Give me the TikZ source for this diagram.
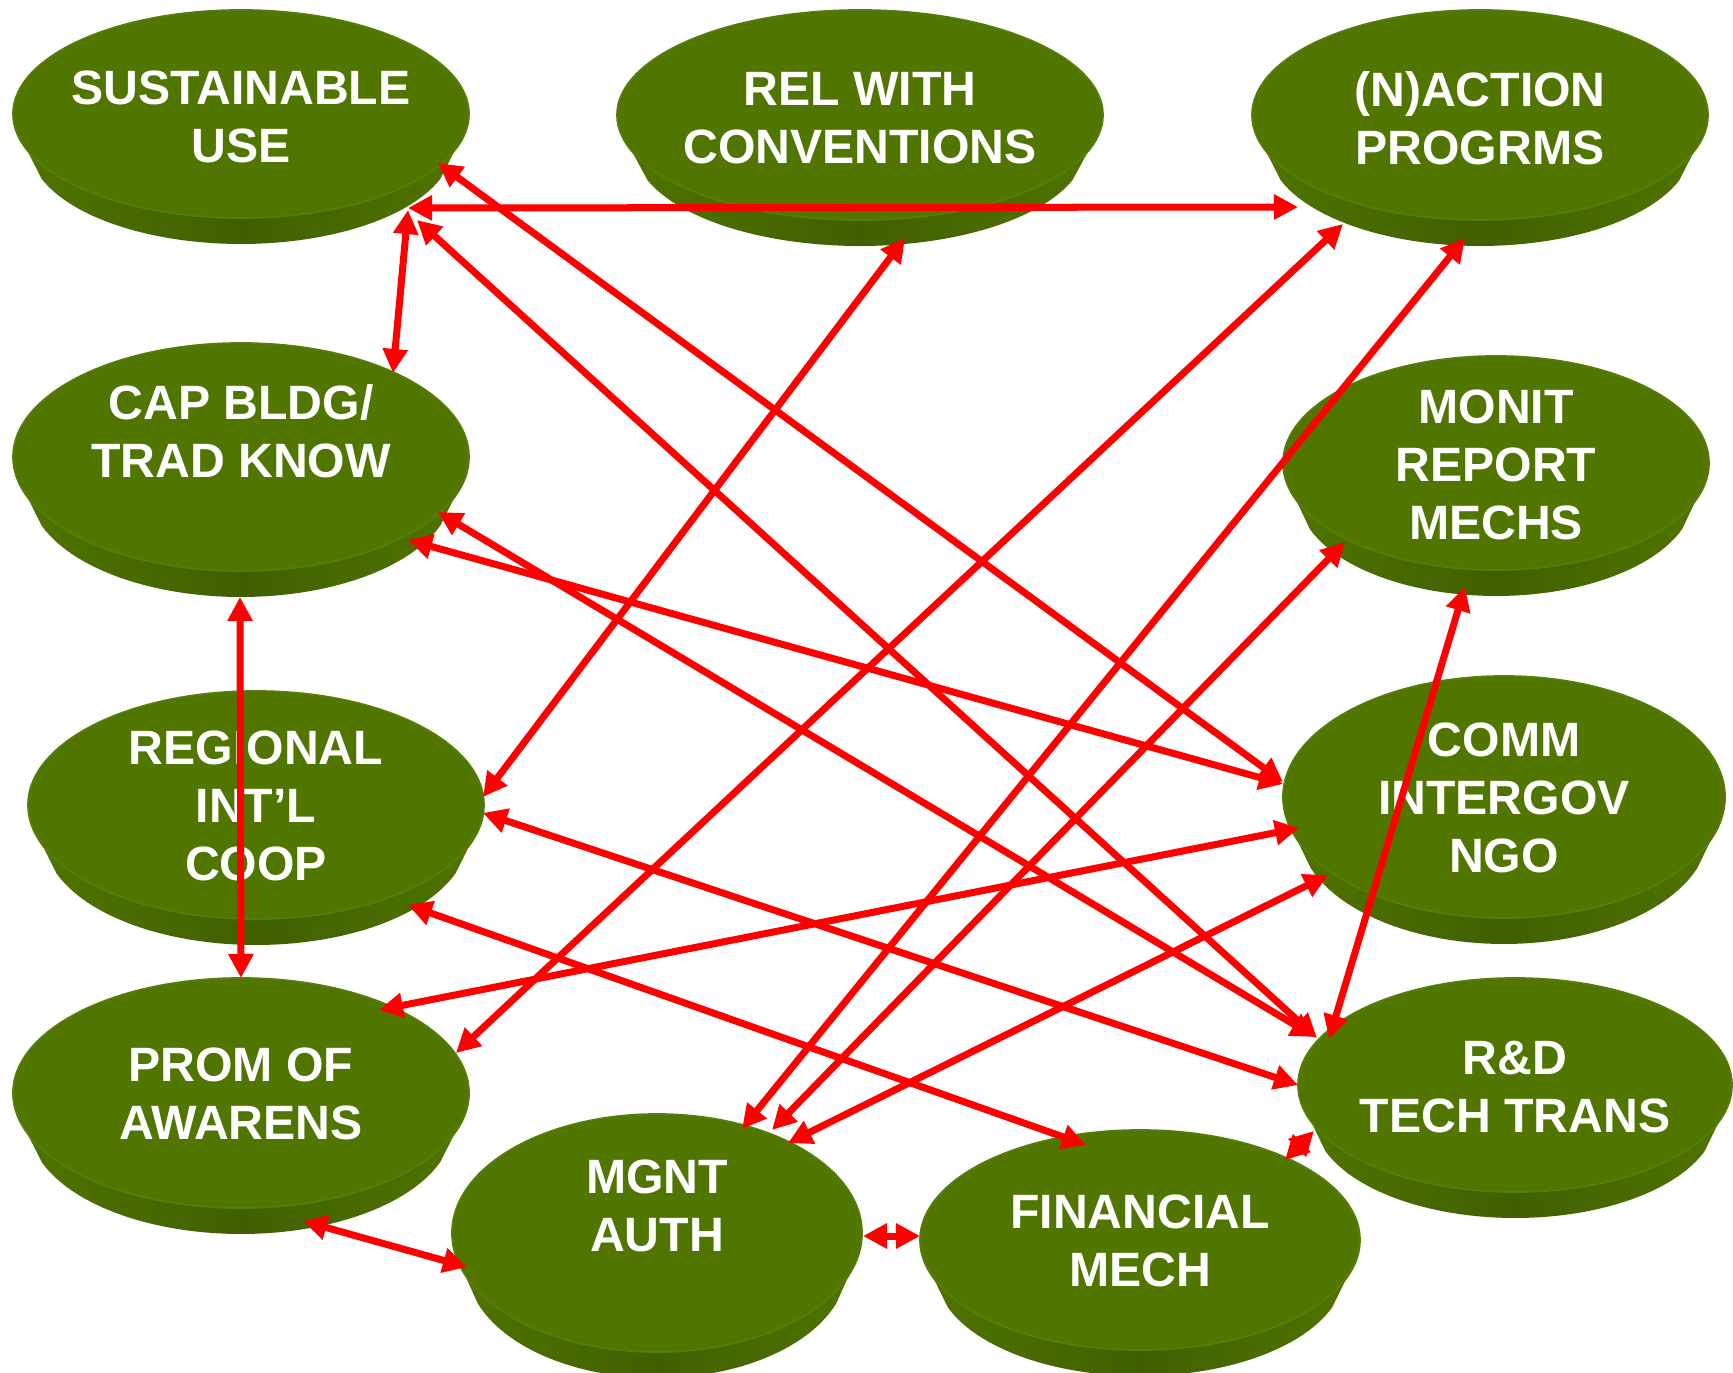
\documentclass[tikz,border=0pt]{standalone}
\usepackage{fontspec}
\setmainfont{Liberation Sans}
\usetikzlibrary{arrows.meta,shapes.geometric}

\definecolor{facegreen}{RGB}{80,118,0}
\definecolor{rimgreen}{RGB}{86,126,6}
\definecolor{bandedge}{RGB}{80,116,0}
\definecolor{bandmid}{RGB}{64,96,0}
\definecolor{linkred}{RGB}{255,0,0}

\tikzset{
  face/.style={ellipse, fill=facegreen, draw=rimgreen, line width=0.5pt, inner sep=0pt, outer sep=0pt},
  caption/.style={text=white, font=\bfseries\fontsize{13.7}{16.5}\selectfont, align=center, inner sep=0pt},
  link/.style={draw=linkred, line width=0.07cm, {Triangle[length=0.24cm,width=0.24cm]}-{Triangle[length=0.24cm,width=0.24cm]}},
}

% A disc: shaded rim band below an elliptic top face with a caption.
% #1 name, #2 cx, #3 cy, #4 rx, #5 ry, #6 caption, #7 caption lift (px)
\newcommand{\disc}[7]{%
  \pgfmathsetmacro{\rxb}{0.93*#4}%
  \pgfmathsetmacro{\ryb}{0.95*#5}%
  \pgfmathsetmacro{\cyb}{#3+0.05*#5+26}%
  \shade[left color=bandedge, right color=bandedge, middle color=bandmid]
    plot[domain=200:340, samples=50, variable=\t] ({#2+\rxb*cos(\t)},{\cyb-\ryb*sin(\t)})
    -- plot[domain=-20:200, samples=70, variable=\t] ({#2+#4*cos(\t)},{#3-#5*sin(\t)}) -- cycle;
  \node[face, minimum width={2*#4*0.01cm}, minimum height={2*#5*0.01cm}] (#1) at (#2,#3) {};
  \node[caption] (#1-txt) at ([yshift={#7*0.01cm}]#1.center) {#6};
}

\begin{document}
\begin{tikzpicture}[x=0.01cm, y=-0.01cm]
  \fill[white] (0,0) rectangle (1733,1373);
  \clip (0,0) rectangle (1733,1373);

  % discs
  \disc{sust}{241}{114}{228}{104}{SUSTAINABLE\\USE}{-3}
  \disc{rel}{860}{115}{243}{105}{REL WITH\\CONVENTIONS}{-3}
  \disc{nact}{1480}{115}{228}{105}{(N)ACTION\\PROGRMS}{-3}
  \disc{cap}{241}{457}{228}{114}{CAP BLDG/\\TRAD KNOW}{26}
  \disc{monit}{1496}{463}{213}{107}{MONIT\\REPORT\\MECHS}{-2}
  \disc{reg}{256}{805}{228}{114}{REGIONAL\\INT’L\\COOP}{-1}
  \disc{comm}{1504}{797}{221}{121}{COMM\\INTERGOV\\NGO}{-1}
  \disc{prom}{241}{1093}{228}{115}{PROM OF\\AWARENS}{-1}
  \disc{rd}{1515}{1085}{217}{107}{R\&D\\TECH TRANS}{-2}
  \disc{mgnt}{657}{1233}{205}{119}{MGNT\\AUTH}{27}
  \disc{fin}{1140}{1240}{220}{110}{FINANCIAL\\MECH}{-1}

  % two-way links
  \draw[link] ([shift={(167,94)}]sust.center) -- ([shift={(-182,92)}]nact.center);
  \draw[link] ([shift={(167,96)}]sust.center) -- ([shift={(152,-84)}]cap.center);
  \draw[link] ([shift={(176,106)}]sust.center) -- ([shift={(-198,-47)}]rd.center);
  \draw[link] ([shift={(197,49)}]sust.center) -- ([shift={(-221,-15)}]comm.center);
  \draw[link] ([shift={(45,123)}]rel.center) -- ([shift={(227,-8)}]reg.center);
  \draw[link] ([shift={(-137,109)}]nact.center) -- ([shift={(215,-40)}]prom.center);
  \draw[link] ([shift={(-15,123)}]nact.center) -- ([shift={(85,-104)}]mgnt.center);
  \draw[link] ([shift={(-151,79)}]monit.center) -- ([shift={(115,-103)}]mgnt.center);
  \draw[link] ([shift={(-31,124)}]monit.center) -- ([shift={(-186,-46)}]rd.center);
  \draw[link] ([shift={(197,55)}]cap.center) -- ([shift={(-200,-48)}]rd.center);
  \draw[link] ([shift={(167,83)}]cap.center) -- ([shift={(-221,-13)}]comm.center);
  \draw[link] ([shift={(-1,140)}]cap.center) -- ([shift={(0,-115)}]prom.center);
  \draw[link] ([shift={(227,8)}]reg.center) -- ([shift={(-217,0)}]rd.center);
  \draw[link] ([shift={(152,100)}]reg.center) -- ([shift={(-54,-95)}]fin.center);
  \draw[link] ([shift={(-205,31)}]comm.center) -- ([shift={(138,-83)}]prom.center);
  \draw[link] ([shift={(-176,78)}]comm.center) -- ([shift={(131,-90)}]mgnt.center);
  \draw[link] ([shift={(62,128)}]prom.center) -- ([shift={(-190,34)}]mgnt.center);
  \draw[link] ([shift={(206,3)}]mgnt.center) -- ([shift={(-220,-4)}]fin.center);
  \draw[link] ([shift={(145,-80)}]fin.center) -- ([shift={(-201,46)}]rd.center);
\end{tikzpicture}
\end{document}
